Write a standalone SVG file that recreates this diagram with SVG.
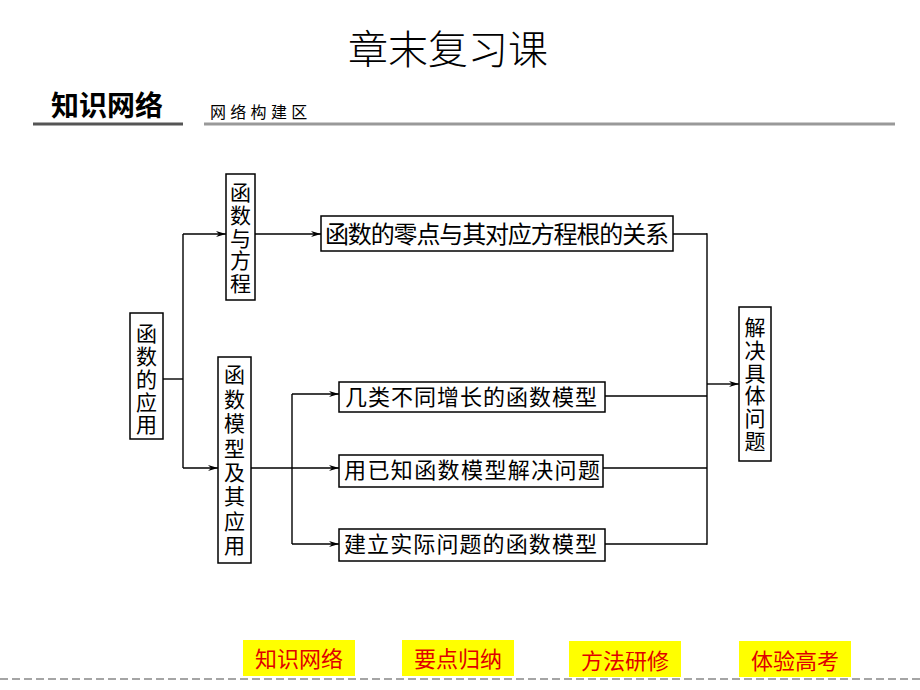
<svg xmlns="http://www.w3.org/2000/svg" width="920" height="690" viewBox="0 0 920 690">
  <style>
    .t { font-family: "Noto Sans CJK SC", "Noto Sans", sans-serif; fill: #000; }
    .box { fill: #fff; stroke: #000; stroke-width: 1.5; }
    .vt { font-family: "Noto Sans CJK SC", sans-serif; font-size: 21px; text-anchor: middle; fill: #000; }
    .ht { font-family: "Noto Sans CJK SC", sans-serif; font-size: 22px; fill: #000; }
    .ln { stroke: #000; stroke-width: 1.4; fill: none; }
    .btn { fill: #ffff00; }
    .bt { font-family: "Noto Sans CJK SC", sans-serif; font-size: 22px; fill: #e00000; text-anchor: middle; }
  </style>
  <defs>
    <marker id="arr" viewBox="0 0 10 6" refX="10" refY="3" markerWidth="10" markerHeight="6" markerUnits="userSpaceOnUse" orient="auto">
      <path d="M0,0 L10,3 L0,6 L3,3 Z" fill="#000"/>
    </marker>
  </defs>
  <rect width="920" height="690" fill="#fff"/>

  <text class="t" x="448" y="64" font-size="40" text-anchor="middle" font-weight="300">章末复习课</text>

  <g id="header">
    <text class="t" x="51" y="116" font-size="28" font-weight="bold">知识网络</text>
    <line x1="33" y1="124" x2="183" y2="124" stroke="#555" stroke-width="3"/>
    <text class="t" x="210" y="118" font-size="16" letter-spacing="4.3" fill="#333">网络构建区</text>
    <line x1="204" y1="124" x2="895" y2="124" stroke="#999" stroke-width="3"/>
  </g>

  <g id="connectors">
    <line class="ln" x1="163" y1="379" x2="183" y2="379"/>
    <line class="ln" x1="183" y1="234" x2="183" y2="468"/>
    <line class="ln" x1="183" y1="234" x2="226" y2="234" marker-end="url(#arr)"/>
    <line class="ln" x1="183" y1="468" x2="218" y2="468" marker-end="url(#arr)"/>
    <line class="ln" x1="255" y1="234" x2="321" y2="234" marker-end="url(#arr)"/>
    <line class="ln" x1="251" y1="468" x2="339" y2="468" marker-end="url(#arr)"/>
    <line class="ln" x1="292" y1="394" x2="292" y2="544"/>
    <line class="ln" x1="292" y1="394" x2="339" y2="394" marker-end="url(#arr)"/>
    <line class="ln" x1="292" y1="544" x2="339" y2="544" marker-end="url(#arr)"/>
    <line class="ln" x1="673" y1="234" x2="707" y2="234"/>
    <line class="ln" x1="605" y1="396" x2="707" y2="396"/>
    <line class="ln" x1="603" y1="468" x2="707" y2="468"/>
    <line class="ln" x1="605" y1="544" x2="707" y2="544"/>
    <line class="ln" x1="707" y1="233.3" x2="707" y2="544.7"/>
    <line class="ln" x1="707" y1="384" x2="739" y2="384" marker-end="url(#arr)"/>
  </g>

  <g id="n-yingyong">
    <rect class="box" x="130" y="313" width="33" height="126"/>
    <text class="vt" x="146.5" y="341">函</text>
    <text class="vt" x="146.5" y="364">数</text>
    <text class="vt" x="146.5" y="387">的</text>
    <text class="vt" x="146.5" y="410">应</text>
    <text class="vt" x="146.5" y="432">用</text>
  </g>

  <g id="n-fangcheng">
    <rect class="box" x="226" y="174" width="29" height="126"/>
    <text class="vt" x="240.5" y="200">函</text>
    <text class="vt" x="240.5" y="223">数</text>
    <text class="vt" x="240.5" y="246">与</text>
    <text class="vt" x="240.5" y="268">方</text>
    <text class="vt" x="240.5" y="291">程</text>
  </g>

  <g id="n-moxing">
    <rect class="box" x="218" y="357" width="33" height="206"/>
    <text class="vt" x="234.5" y="382">函</text>
    <text class="vt" x="234.5" y="406.5">数</text>
    <text class="vt" x="234.5" y="431">模</text>
    <text class="vt" x="234.5" y="455.5">型</text>
    <text class="vt" x="234.5" y="480">及</text>
    <text class="vt" x="234.5" y="504">其</text>
    <text class="vt" x="234.5" y="528.5">应</text>
    <text class="vt" x="234.5" y="553">用</text>
  </g>

  <g id="n-lingdian">
    <rect class="box" x="321" y="216" width="352" height="35"/>
    <text class="t" x="325" y="243" font-size="24" textLength="344" lengthAdjust="spacing">函数的零点与其对应方程根的关系</text>
  </g>

  <g id="n-zengzhang">
    <rect class="box" x="339" y="382" width="266" height="30"/>
    <text class="ht" x="345" y="405" textLength="252" lengthAdjust="spacing">几类不同增长的函数模型</text>
  </g>

  <g id="n-yizhi">
    <rect class="box" x="339" y="455" width="264" height="32"/>
    <text class="ht" x="344" y="478" textLength="256" lengthAdjust="spacing">用已知函数模型解决问题</text>
  </g>

  <g id="n-jianli">
    <rect class="box" x="339" y="529" width="266" height="32"/>
    <text class="ht" x="344" y="552" textLength="253" lengthAdjust="spacing">建立实际问题的函数模型</text>
  </g>

  <g id="n-jiejue">
    <rect class="box" x="739" y="307" width="32" height="154"/>
    <text class="vt" x="755" y="335">解</text>
    <text class="vt" x="755" y="358">决</text>
    <text class="vt" x="755" y="381">具</text>
    <text class="vt" x="755" y="403">体</text>
    <text class="vt" x="755" y="426">问</text>
    <text class="vt" x="755" y="449">题</text>
  </g>

  <g id="nav">
    <line x1="0" y1="679" x2="920" y2="679" stroke="#888" stroke-width="1.5" stroke-dasharray="8,4"/>
    <rect class="btn" x="243" y="640" width="112" height="36"/>
    <text class="bt" x="299" y="667">知识网络</text>
    <rect class="btn" x="402" y="640" width="112" height="36"/>
    <text class="bt" x="458" y="667">要点归纳</text>
    <rect class="btn" x="569" y="641" width="112" height="36"/>
    <text class="bt" x="625" y="669">方法研修</text>
    <rect class="btn" x="739" y="641" width="112" height="36"/>
    <text class="bt" x="795" y="669">体验高考</text>
  </g>
</svg>
